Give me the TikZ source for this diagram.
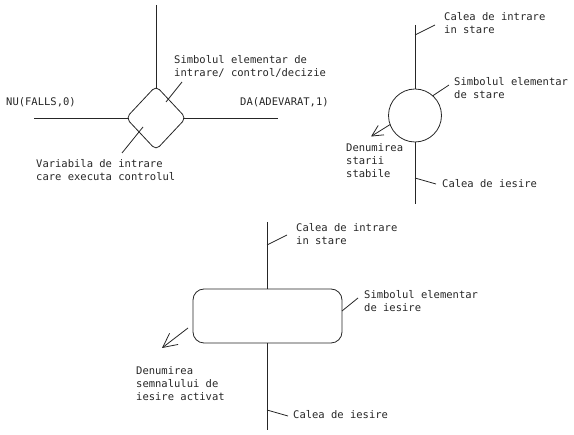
\documentclass[tikz,border=0pt]{standalone}
\usepackage{fontspec}
\setmonofont{DejaVu Sans Mono}
\usetikzlibrary{shapes.geometric,arrows.meta}
\tikzset{
	label text/.style={anchor=west, align=left, inner sep=0pt, font=\ttfamily\fontsize{10.5}{13}\selectfont, text=black!85},
	line/.style={line width=0.8pt, draw=black!85},
	symbol/.style={line, inner sep=0pt, outer sep=0pt},
	barb/.style={line, -{Straight Barb[length=#1,width=#1]}}
}
\begin{document}
\begin{tikzpicture}[x=1pt, y=-1pt]
	\useasboundingbox (0,0) rectangle (574,435);
	%
	%decizie
	\node[symbol, diamond, rounded corners=5pt, minimum width=60pt, minimum height=64pt] (decizie) at (156,118) {};
	\coordinate (decizieSus) at (156,5);
	\coordinate (nuCapat) at (34,118);
	\coordinate (daCapat) at (278,118);
	\coordinate (simbolDecizie) at (182,82);
	\coordinate (simbolDecizieSt) at (166,102);
	\coordinate (variabila) at (122,153);
	\coordinate (variabilaSt) at (143,127);
	\draw[line, shorten >=-3pt] (decizieSus) -- (decizie.north);
	\draw[line, shorten >=-3pt] (nuCapat) -- (decizie.west);
	\draw[line, shorten <=-3pt] (decizie.east) -- (daCapat);
	\draw[line] (simbolDecizie) -- (simbolDecizieSt);
	\draw[line] (variabila) -- (variabilaSt);
	\node[label text] (txtSimbolDecizie) at (174,66) {Simbolul elementar de\\intrare/ control/decizie};
	\node[label text] (txtNu) at (6,102) {NU(FALLS,0)};
	\node[label text] (txtDa) at (240,102) {DA(ADEVARAT,1)};
	\node[label text] (txtVariabila) at (36,170) {Variabila de intrare\\care executa controlul};
	%
	%stare
	\node[symbol, circle, minimum size=53pt] (stare) at (415,115.5) {};
	\coordinate (stareSus) at (415,25);
	\coordinate (stareJos) at (415,204);
	\coordinate (stareIntrare) at (415,35);
	\coordinate (stareIesire) at (415,178);
	\coordinate (stareIntrareTxt) at (435,25);
	\coordinate (stareSimbolTxt) at (449,85);
	\coordinate (stareIesireTxt) at (436,184);
	\coordinate (stareNume) at (371,136.5);
	\draw[line] (stareSus) -- (stare.north);
	\draw[line] (stare.south) -- (stareJos);
	\draw[line] (stareIntrareTxt) -- (stareIntrare);
	\draw[line] (stareSimbolTxt) -- (stare.48);
	\draw[line] (stareIesire) -- (stareIesireTxt);
	\draw[barb=11pt] (stare.200) -- (stareNume);
	\node[label text] (txtStareIntrare) at (444,23.5) {Calea de intrare\\in stare};
	\node[label text] (txtStareSimbol) at (454,88.5) {Simbolul elementar\\de stare};
	\node[label text] (txtStareNume) at (346,161) {Denumirea\\starii\\stabile};
	\node[label text] (txtStareIesire) at (442,184) {Calea de iesire};
	%
	%iesire
	\node[symbol, rectangle, rounded corners=11pt, minimum width=149pt, minimum height=54pt] (iesire) at (267.5,316) {};
	\coordinate (iesireSus) at (267,222);
	\coordinate (iesireJos) at (267,430);
	\coordinate (iesireIntrare) at (267,245);
	\coordinate (iesireCale) at (267,410);
	\coordinate (iesireIntrareTxt) at (287,235);
	\coordinate (iesireSimbolTxt) at (358,298);
	\coordinate (iesireSimbolSt) at (342,311);
	\coordinate (iesireCaleTxt) at (288,416);
	\coordinate (iesireNumeSt) at (188,328);
	\coordinate (iesireNume) at (162,348);
	\draw[line] (iesireSus) -- (iesire.north -| iesireSus);
	\draw[line] (iesire.south -| iesireJos) -- (iesireJos);
	\draw[line] (iesireIntrareTxt) -- (iesireIntrare);
	\draw[line] (iesireSimbolTxt) -- (iesireSimbolSt);
	\draw[line] (iesireCale) -- (iesireCaleTxt);
	\draw[barb=14pt] (iesireNumeSt) -- (iesireNume);
	\node[label text] (txtIesireIntrare) at (296,234) {Calea de intrare\\in stare};
	\node[label text] (txtIesireSimbol) at (364,301.5) {Simbolul elementar\\de iesire};
	\node[label text] (txtIesireNume) at (136,384) {Denumirea\\semnalului de\\iesire activat};
	\node[label text] (txtIesireCale) at (293,415) {Calea de iesire};
\end{tikzpicture}
\end{document}
